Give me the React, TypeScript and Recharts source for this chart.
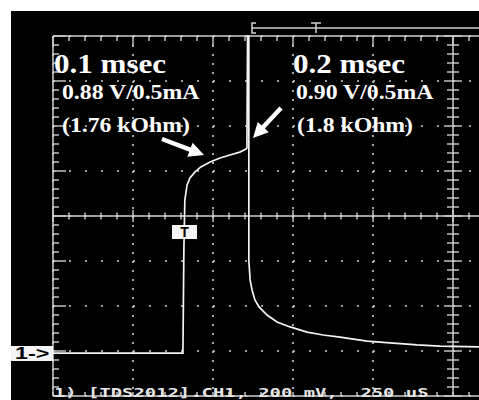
import { ComposedChart, Line, Scatter, XAxis, YAxis, CartesianGrid, ReferenceLine } from 'recharts';

// CH1 trace: time from left edge of screen (us, 250 us/div), voltage above ground (mV, 200 mV/div)
const timeUs = [
  0, 406, 409, 412, 419, 428, 444, 462, 491, 522, 553, 584, 603, 606,
  608, 612, 612,
  616, 622, 631, 644, 656, 669, 700, 741, 794, 844, 897, 981, 1053, 1138, 1209, 1331,
];
const ch1Mv = [
  -9, -9, 449, 671, 738, 769, 796, 818, 840, 858, 871, 884, 898, 902,
  1400, 1400, 404,
  316, 271, 227, 196, 178, 160, 129, 107, 84, 71, 62, 44, 36, 27, 22, 18,
];

const xDivs = [0, 250, 500, 750, 1000, 1250, 1500, 1750, 2000, 2250, 2500];
const yDivs = [-200, 0, 200, 400, 600, 800, 1000, 1200, 1400];
const xMinor = Array.from({ length: 51 }, (_, i) => i * 50);
const yMinor = Array.from({ length: 41 }, (_, i) => -200 + i * 40);

const annotations = [
  { left: 54, top: 51, size: 27, scale: 1.15, text: '0.1 msec' },
  { left: 62, top: 82, size: 21, scale: 1.13, text: '0.88 V/0.5mA' },
  { left: 62, top: 115, size: 21, scale: 1.13, text: '(1.76 kOhm)' },
  { left: 293, top: 51, size: 27, scale: 1.15, text: '0.2 msec' },
  { left: 296, top: 82, size: 21, scale: 1.13, text: '0.90 V/0.5mA' },
  { left: 297, top: 115, size: 21, scale: 1.13, text: '(1.8 kOhm)' },
];

const data = timeUs.map((t, i) => ({ t, v: ch1Mv[i] }));

const topTicks = xMinor.map((t) => ({ t, v: 1400, major: t % 250 === 0 }));
const midHTicks = xMinor.map((t) => ({ t, v: 600, major: t % 250 === 0 }));
const bottomTicks = xMinor.map((t) => ({ t, v: -200, major: t % 250 === 0 }));
const leftTicks = yMinor.map((v) => ({ t: 0, v, major: (v + 200) % 200 === 0 }));
const midVTicks = yMinor.map((v) => ({ t: 1250, v, major: (v + 200) % 200 === 0 }));

const GRID = '#cfcfcf';

function tickShape(kind: string) {
  return (p: any) => {
    const { cx, cy, payload } = p;
    const m = payload && payload.major;
    let x1 = cx, x2 = cx, y1 = cy, y2 = cy;
    if (kind === 'top') y2 = cy + (m ? 10 : 5);
    if (kind === 'bottom') y1 = cy - 4;
    if (kind === 'midH') { y1 = cy - (m ? 6 : 3.5); y2 = cy + (m ? 6 : 3.5); }
    if (kind === 'left') x2 = cx + (m ? 13 : 6);
    if (kind === 'midV') { x1 = cx - (m ? 9 : 6); x2 = cx + (m ? 9 : 6); }
    return <line x1={x1} y1={y1} x2={x2} y2={y2} stroke={GRID} strokeWidth={1.4} />;
  };
}

function arrow(x1: number, y1: number, x2: number, y2: number) {
  const dx = x2 - x1;
  const dy = y2 - y1;
  const len = Math.hypot(dx, dy);
  const ux = dx / len;
  const uy = dy / len;
  const px = -uy;
  const py = ux;
  const s = 2.2;
  const hw = 7.5;
  const hl = 15;
  const bx = x2 - ux * hl;
  const by = y2 - uy * hl;
  const pts = [
    [x1 + px * s, y1 + py * s],
    [bx + px * s, by + py * s],
    [bx + px * hw, by + py * hw],
    [x2, y2],
    [bx - px * hw, by - py * hw],
    [bx - px * s, by - py * s],
    [x1 - px * s, y1 - py * s],
  ];
  return pts.map((p) => p.join(',')).join(' ');
}

export default function App() {
  return (
    <div
      style={{
        position: 'absolute',
        left: 0,
        top: 0,
        width: 479,
        height: 400,
        background: '#fff',
        overflow: 'hidden',
      }}
    >
      <div style={{ position: 'absolute', left: 11, top: 11, width: 468, height: 389, background: '#000' }} />
      <div style={{ position: 'absolute', left: 0, top: 0 }}>
        <ComposedChart
          width={479}
          height={400}
          data={data}
          margin={{ top: 36, right: -374, bottom: 4, left: 53 }}
        >
          <XAxis dataKey='t' type='number' domain={[0, 2500]} ticks={xDivs} hide />
          <YAxis dataKey='v' type='number' domain={[-200, 1400]} ticks={yDivs} hide />
          <CartesianGrid vertical={false} stroke={GRID} strokeWidth={1.6} strokeDasharray='2 14' />
          <CartesianGrid horizontal={false} stroke={GRID} strokeWidth={1.6} strokeDasharray='2 7' />
          <ReferenceLine y={1400} stroke={GRID} strokeWidth={1.5} />
          <ReferenceLine y={-200} stroke={GRID} strokeWidth={1.5} />
          <ReferenceLine y={600} stroke={GRID} strokeWidth={1.5} />
          <ReferenceLine x={0} stroke={GRID} strokeWidth={1.5} />
          <ReferenceLine x={1250} stroke={GRID} strokeWidth={1.5} />
          <Scatter data={topTicks} dataKey='v' shape={tickShape('top')} isAnimationActive={false} />
          <Scatter data={midHTicks} dataKey='v' shape={tickShape('midH')} isAnimationActive={false} />
          <Scatter data={bottomTicks} dataKey='v' shape={tickShape('bottom')} isAnimationActive={false} />
          <Scatter data={leftTicks} dataKey='v' shape={tickShape('left')} isAnimationActive={false} />
          <Scatter data={midVTicks} dataKey='v' shape={tickShape('midV')} isAnimationActive={false} />
          <Line
            type='linear'
            dataKey='v'
            stroke='#f4f4f4'
            strokeWidth={1.7}
            dot={false}
            isAnimationActive={false}
          />
        </ComposedChart>
      </div>
      <svg
        width={479}
        height={400}
        style={{ position: 'absolute', left: 0, top: 0, pointerEvents: 'none' }}
      >
        <path d='M256,23 H252 V33 H256' stroke='#cfcfcf' strokeWidth={1.5} fill='none' />
        <line x1={252} y1={28} x2={479} y2={28} stroke='#cfcfcf' strokeWidth={1.5} />
        <path d='M311,23 H321 M316,23 V33' stroke='#cfcfcf' strokeWidth={1.5} fill='none' />
        <polygon points={arrow(162, 139, 204, 155)} fill='#fff' />
        <polygon points={arrow(281, 108, 253, 138)} fill='#fff' />
        <rect x={172} y={225} width={25} height={14} fill='#f4f4f4' />
        <rect x={11} y={346} width={42} height={15} fill='#f4f4f4' />
      </svg>
      <div
        style={{
          position: 'absolute',
          left: 172,
          top: 225,
          width: 25,
          height: 14,
          lineHeight: '14px',
          textAlign: 'center',
          fontFamily: 'Liberation Sans, Arial, sans-serif',
          fontWeight: 700,
          fontSize: 14,
          color: '#000',
        }}
      >
        T
      </div>
      <div
        style={{
          position: 'absolute',
          left: 15,
          top: 346,
          height: 15,
          lineHeight: '15px',
          fontFamily: 'Liberation Sans, Arial, sans-serif',
          fontWeight: 700,
          fontSize: 16,
          color: '#000',
          whiteSpace: 'nowrap',
          transform: 'scaleX(1.45)',
          transformOrigin: 'left top',
        }}
      >
        1-&gt;
      </div>
      {annotations.map((a) => (
        <div
          key={a.text}
          style={{
            position: 'absolute',
            left: a.left,
            top: a.top,
            fontFamily: 'Liberation Serif, Times New Roman, serif',
            fontWeight: 700,
            fontSize: a.size,
            lineHeight: `${a.size}px`,
            color: '#fff',
            whiteSpace: 'nowrap',
            transform: `scaleX(${a.scale})`,
            transformOrigin: 'left top',
          }}
        >
          {a.text}
        </div>
      ))}
      <div
        style={{
          position: 'absolute',
          left: 54,
          top: 386,
          fontFamily: 'DejaVu Sans Mono, monospace',
          fontWeight: 700,
          fontSize: 13,
          lineHeight: '13px',
          color: '#e6e6e6',
          whiteSpace: 'pre',
          transform: 'scaleX(1.45)',
          transformOrigin: 'left top',
        }}
      >
        {'1) [TDS2012].CH1, 200 mV,  250 uS'}
      </div>
    </div>
  );
}
